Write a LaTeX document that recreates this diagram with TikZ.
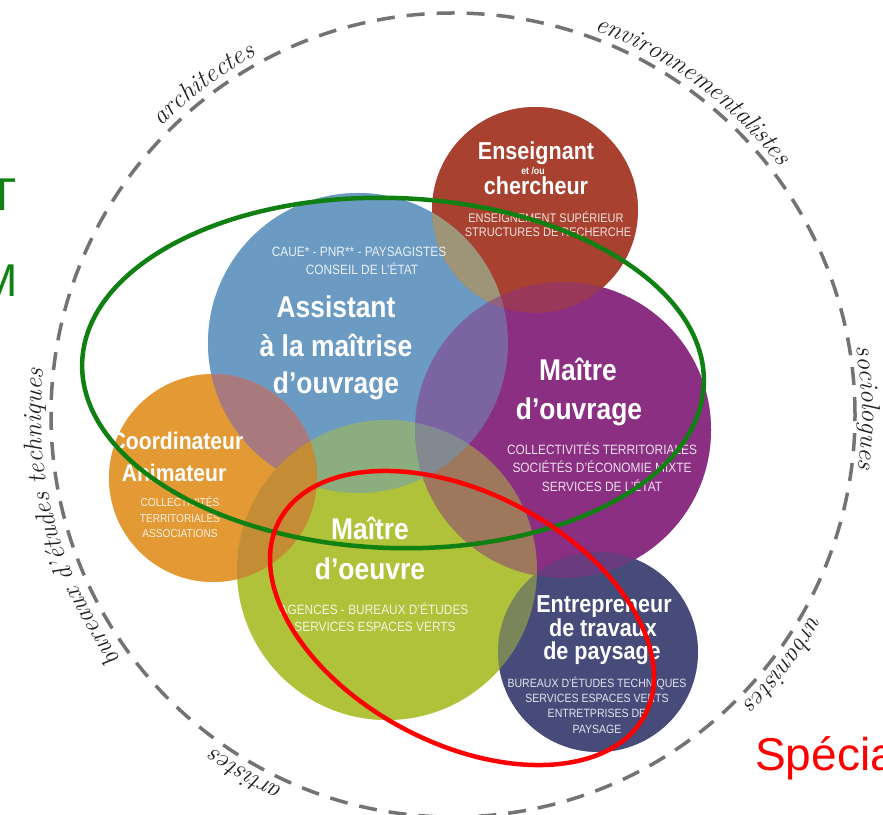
\documentclass[tikz,border=0pt]{standalone}
\usepackage{fontspec}
\usetikzlibrary{decorations.text}
\newfontfamily\cnd[FakeStretch=0.88]{Liberation Sans}
\newfontfamily\arl{Liberation Sans}
\definecolor{cRed}{RGB}{168,65,47}
\definecolor{cBlue}{RGB}{107,155,195}
\definecolor{cPurple}{RGB}{139,47,130}
\definecolor{cOrange}{RGB}{227,154,53}
\definecolor{cGreen}{RGB}{175,194,58}
\definecolor{cNavy}{RGB}{70,75,122}
\definecolor{cRB}{RGB}{158,148,120}
\definecolor{cOB}{RGB}{168,122,125}
\definecolor{cOG}{RGB}{196,140,52}
\definecolor{cDash}{RGB}{115,115,115}
\definecolor{cOval}{RGB}{16,128,18}
\definecolor{cRing}{RGB}{255,0,0}
\definecolor{cHand}{RGB}{35,35,35}
\begin{document}
\begin{tikzpicture}[x=1pt,y=1pt,
  disc/.style={circle, inner sep=0pt, minimum size=#1},
  ttl/.style={text=white, font=\cnd\bfseries\fontsize{#1}{#1}\selectfont, anchor=base, inner sep=0pt},
  sub/.style={text=white, text opacity=0.85, font=\cnd\fontsize{#1}{#1}\selectfont, anchor=base, inner sep=0pt},
  oval/.style={line width=4.5pt},
  big/.style={font=\arl\fontsize{46}{46}\selectfont, anchor=base, inner sep=0pt},
  lab/.style={decorate, decoration={text along path, text align=center,
     text={|\rmfamily\itshape\fontsize{26}{26}\selectfont\color{cHand}|#1}}}
]
\useasboundingbox (0,0) rectangle (883,814);
\clip (0,0) rectangle (883,814);
\fill[white] (0,0) rectangle (883,814);

% dashed ring
\coordinate (ctr) at (453,399);
\draw[cDash, line width=3.5pt, dash pattern=on 18pt off 12pt] (ctr) circle[radius=402];
\path[lab={architectes}] (ctr) ++(150:410) arc[start angle=150, end angle=104, radius=410];
\path[lab={environnementalistes}] (ctr) ++(92:410) arc[start angle=92, end angle=15, radius=410];
\path[lab={sociologues}] (ctr) ++(20:409) arc[start angle=20, end angle=-18, radius=409];
\path[lab={urbanistes}] (ctr) ++(-18:410) arc[start angle=-18, end angle=-56, radius=410];
\path[lab={artistes}] (ctr) ++(-98:410) arc[start angle=-98, end angle=-142, radius=410];
\path[lab={bureaux d'études techniques}] (ctr) ++(247:412) arc[start angle=247, end angle=143, radius=412];

% discs, opaque pass
\node[disc=206pt, fill=cRed]    (ens) at (535,604) {};
\node[disc=300pt, fill=cBlue]   (amo) at (358,471) {};
\node[disc=208pt, fill=cOrange] (coo) at (213,336) {};
\node[disc=300pt, fill=cGreen]  (moe) at (387,244) {};
\node[disc=296pt, fill=cPurple] (mou) at (563,384) {};
\node[disc=200pt, fill=cNavy]   (ent) at (598,162) {};
% blending pass (reverse order)
\fill[cNavy, fill opacity=0.5]   (ent.center) circle[radius=100];
\fill[cPurple, fill opacity=0.5] (mou.center) circle[radius=148];
\fill[cGreen, fill opacity=0.5]  (moe.center) circle[radius=150];
\fill[cOrange, fill opacity=0.5] (coo.center) circle[radius=104];
\fill[cBlue, fill opacity=0.5]   (amo.center) circle[radius=150];
\fill[cRed, fill opacity=0.5]    (ens.center) circle[radius=103];
% tinted overlaps
\begin{scope}
  \clip (amo.center) circle[radius=150];
  \fill[cRB] (ens.center) circle[radius=103];
  \clip (ens.center) circle[radius=103];
  \fill[cPurple, fill opacity=0.5] (mou.center) circle[radius=148];
\end{scope}
\begin{scope}
  \clip (coo.center) circle[radius=104];
  \fill[cOB] (amo.center) circle[radius=150];
\end{scope}
\begin{scope}
  \clip (coo.center) circle[radius=104];
  \fill[cOG] (moe.center) circle[radius=150];
\end{scope}

% Enseignant
\node[ttl=24.5] (e1) at (536,654) {Enseignant};
\node[ttl=10]   (e2) at (533,639) {et /ou};
\node[ttl=24.5] (e3) at (536,619) {chercheur};
\node[sub=12.5] (e4) at (546,591) {ENSEIGNEMENT SUPÉRIEUR};
\node[sub=12.5] (e5) at (548,577) {STRUCTURES DE RECHERCHE};
% Assistant
\node[sub=13.5] (a1) at (359,557) {CAUE* - PNR** - PAYSAGISTES};
\node[sub=13.5] (a2) at (362,539) {CONSEIL DE L’ÉTAT};
\node[ttl=30] (a3) at (336,496) {Assistant};
\node[ttl=30] (a4) at (336,457) {à la maîtrise};
\node[ttl=30] (a5) at (336,420) {d’ouvrage};
% Maitre d'ouvrage
\node[ttl=30] (m1) at (578,433) {Maître};
\node[ttl=30] (m2) at (579,394) {d’ouvrage};
\node[sub=13.5] (m3) at (602,359) {COLLECTIVITÉS TERRITORIALES};
\node[sub=13.5] (m4) at (602,341) {SOCIÉTÉS D’ÉCONOMIE MIXTE};
\node[sub=13.5] (m5) at (602,322) {SERVICES DE L’ÉTAT};
% Coordinateur
\node[ttl=24] (c1) at (177,364) {Coordinateur};
\node[ttl=24] (c2) at (174,332) {Animateur};
\node[sub=11.5] (c3) at (180,307) {COLLECTIVITÉS};
\node[sub=11.5] (c4) at (180,291) {TERRITORIALES};
\node[sub=11.5] (c5) at (180,276) {ASSOCIATIONS};
% Maitre d'oeuvre
\node[ttl=30] (o1) at (370,274) {Maître};
\node[ttl=30] (o2) at (370,234) {d’oeuvre};
\node[sub=13.5] (o3) at (374,199) {AGENCES - BUREAUX D’ÉTUDES};
\node[sub=13.5] (o4) at (375,182) {SERVICES ESPACES VERTS};
% Entrepreneur
\node[ttl=24.5] (n1) at (604,201) {Entrepreneur};
\node[ttl=24.5] (n2) at (603,177) {de travaux};
\node[ttl=24.5] (n3) at (602,154) {de paysage};
\node[sub=12] (n4) at (597,127) {BUREAUX D’ÉTUDES TECHNIQUES};
\node[sub=12] (n5) at (597,112) {SERVICES ESPACES VERTS};
\node[sub=12] (n6) at (597,97)  {ENTRETPRISES DE};
\node[sub=12] (n7) at (597,81)  {PAYSAGE};

% ovals
\draw[oval, cOval, rotate around={-2:(393,441)}] (393,441) ellipse[x radius=311, y radius=175];
\draw[oval, cRing, rotate around={-28:(462,196)}] (462,196) ellipse[x radius=207, y radius=125];

% cut-off big letters
\node[big, text=cOval] (bt) at (3,603) {T};
\node[big, text=cOval] (bm) at (-1,517) {M};
\node[big, text=cRing, anchor=base west] (bs) at (755,44) {Spécia};
\end{tikzpicture}
\end{document}
